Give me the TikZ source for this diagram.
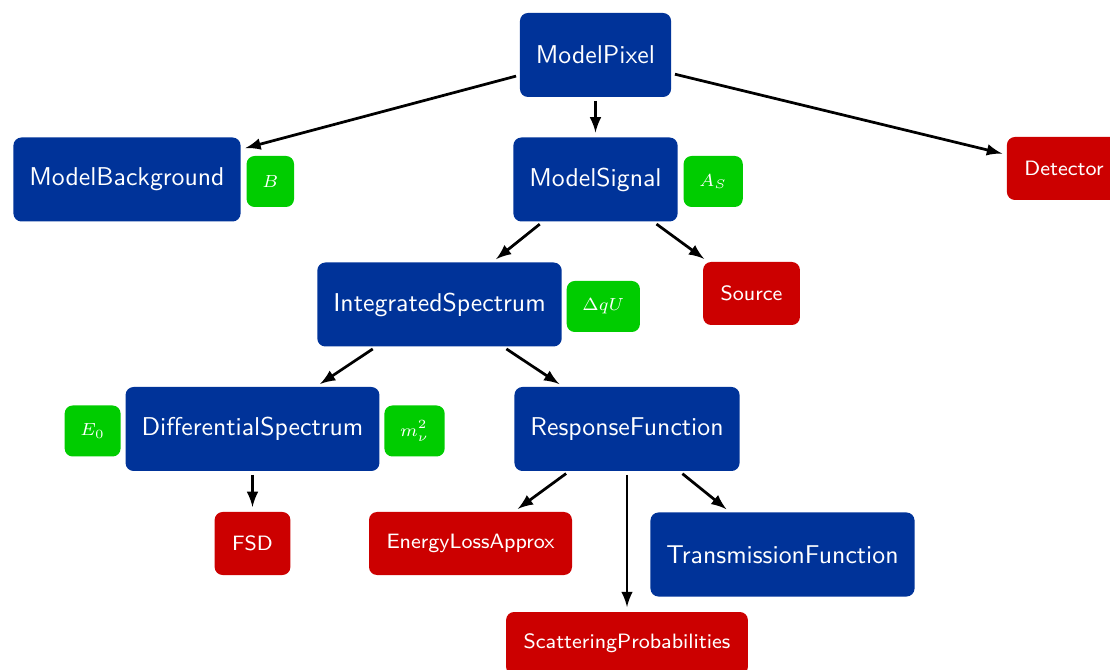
\documentclass[tikz,border=0pt]{standalone}
\usetikzlibrary{positioning}

\definecolor{modelblue}{RGB}{0,51,153}
\definecolor{inputred}{RGB}{204,0,0}
\definecolor{paramgreen}{RGB}{0,204,0}

\begin{document}
\begin{tikzpicture}[x=0.4pt, y=-0.4pt,
		every node/.style={text=white, font=\sffamily, rounded corners=3.2pt},
		model/.style={fill=modelblue, minimum height=33.6pt, inner xsep=6.4pt,
			font=\sffamily\fontsize{10.3}{12}\selectfont}, %Blue model parts
		input/.style={fill=inputred, minimum height=25.2pt, inner xsep=7pt,
			font=\sffamily\fontsize{8.3}{10}\selectfont}, %Red inputs
		param/.style={fill=paramgreen, minimum height=20.4pt, inner xsep=6.3pt,
			font=\fontsize{7.4}{9}\selectfont, yshift=-0.8pt}, %Green parameters
		link/.style={->, >=latex, line width=1.1pt, shorten <=1.4pt, shorten >=1.8pt},
	]

\useasboundingbox (0,0) rectangle (1110,670);

\node[model] (pixel) at (595.5,55) {ModelPixel};

\node[model] (bkg) at (127,179.5) {ModelBackground};
\node[param, right=2pt of bkg] (parB) {$B$};
\node[model] (signal) at (595.5,179.5) {ModelSignal};
\node[param, right=2pt of signal] (parAS) {$A_S$};
\node[input] (detector) at (1064,168.5) {Detector};

\node[model] (integ) at (439.5,304.5) {IntegratedSpectrum};
\node[param, right=1.6pt of integ] (parqU) {$\Delta qU$};
\node[input] (source) at (751.5,293.5) {Source};

\node[model] (diff) at (252.5,429) {DifferentialSpectrum};
\node[param, left=1.6pt of diff] (parE) {$E_0$};
\node[param, right=1.6pt of diff] (parm) {$m_\nu^2$};
\node[model] (resp) at (627,429) {ResponseFunction};

\node[input] (fsd) at (252.5,543.5) {FSD};
\node[input] (eloss) at (470.5,543.5) {EnergyLossApprox};
\node[model] (trans) at (782.5,554.5) {TransmissionFunction};
\node[input] (scat) at (627,643.5) {ScatteringProbabilities};

\foreach \from/\to in {pixel/bkg, pixel/signal, pixel/detector,
		signal/integ, signal/source,
		integ/diff, integ/resp,
		diff/fsd, resp/eloss, resp/scat, resp/trans}
	\draw[link] (\from) -- (\to);

\end{tikzpicture}
\end{document}
